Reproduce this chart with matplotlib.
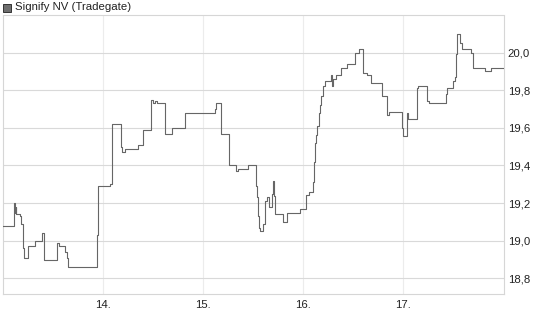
import matplotlib
matplotlib.use("Agg")
import matplotlib.pyplot as plt
from matplotlib.patches import Rectangle

plt.rcParams['font.family'] = ['Liberation Sans', 'DejaVu Sans']

title = "Signify NV (Tradegate)"
x_ticks = [14, 15, 16, 17]
x_tick_labels = ["14.", "15.", "16.", "17."]
y_ticks = [18.8, 19.0, 19.2, 19.4, 19.6, 19.8, 20.0]
y_tick_labels = ["18,8", "19,0", "19,2", "19,4", "19,6", "19,8", "20,0"]

# time in fractional days, price (step series)
times = [13.000, 13.105, 13.115, 13.125, 13.13, 13.17, 13.18, 13.195, 13.21, 13.245,
         13.32, 13.385, 13.405, 13.543, 13.56, 13.615, 13.635, 13.645, 13.943, 13.95,
         14.07, 14.093, 14.177, 14.19, 14.215, 14.35, 14.40, 14.477, 14.50, 14.52,
         14.54, 14.62, 14.685, 14.815, 15.113, 15.13, 15.18, 15.26, 15.325, 15.35,
         15.45, 15.525, 15.54, 15.55, 15.56, 15.57, 15.60, 15.615, 15.64, 15.655,
         15.685, 15.695, 15.705, 15.72, 15.80, 15.835, 15.97, 16.025, 16.055, 16.095,
         16.105, 16.12, 16.13, 16.14, 16.155, 16.17, 16.18, 16.195, 16.215, 16.28,
         16.287, 16.30, 16.33, 16.38, 16.44, 16.517, 16.553, 16.597, 16.637, 16.677,
         16.785, 16.835, 16.853, 16.985, 16.995, 17.037, 17.05, 17.137, 17.15, 17.237,
         17.26, 17.427, 17.44, 17.50, 17.52, 17.53, 17.54, 17.565, 17.59, 17.675,
         17.70, 17.82, 17.875, 18.00]
prices = [19.08, 19.20, 19.15, 19.18, 19.14, 19.13, 19.09, 18.96, 18.91, 18.97,
          19.00, 19.04, 18.90, 18.99, 18.97, 18.94, 18.91, 18.86, 19.03, 19.29,
          19.30, 19.62, 19.50, 19.47, 19.485, 19.51, 19.59, 19.75, 19.73, 19.745,
          19.73, 19.567, 19.60, 19.68, 19.70, 19.73, 19.567, 19.40, 19.37, 19.38,
          19.40, 19.29, 19.23, 19.13, 19.07, 19.05, 19.09, 19.21, 19.23, 19.18,
          19.25, 19.32, 19.24, 19.14, 19.10, 19.15, 19.17, 19.245, 19.26, 19.31,
          19.42, 19.52, 19.56, 19.61, 19.68, 19.72, 19.77, 19.82, 19.85, 19.88,
          19.82, 19.86, 19.88, 19.92, 19.94, 20.00, 20.02, 19.89, 19.88, 19.84,
          19.77, 19.67, 19.685, 19.60, 19.556, 19.68, 19.645, 19.81, 19.82, 19.74,
          19.73, 19.78, 19.81, 19.85, 19.87, 19.995, 20.10, 20.05, 20.02, 20.00,
          19.92, 19.90, 19.92, 19.92]

W, H = 545, 327
fig = plt.figure(figsize=(W / 100, H / 100), dpi=100)
ax = fig.add_axes([3 / W, (H - 294) / H, (503.5 - 3) / W, (294 - 15.5) / H])

ax.plot(times, prices, drawstyle='steps-post', color='#666666', lw=0.8, zorder=3)

ax.set_xlim(13.0, 18.0)
ax.set_ylim(18.717, 20.197)

ax.set_xticks(x_ticks)
ax.set_xticklabels(x_tick_labels)
ax.set_yticks(y_ticks)
ax.set_yticklabels(y_tick_labels)
ax.yaxis.tick_right()
ax.tick_params(axis='both', length=0, labelsize=8.2, colors='#222222')
ax.tick_params(axis='x', pad=4)
ax.tick_params(axis='y', pad=3)

ax.grid(axis='y', color='#d9d9d9', lw=0.8, zorder=0)
ax.grid(axis='x', color='#ececec', lw=0.8, zorder=0)
for s in ax.spines.values():
    s.set_color('#d6d6d6')
    s.set_linewidth(0.8)

# legend marker and title
fig.patches.append(Rectangle((3 / W, (H - 12) / H), 8 / W, 8 / H,
                             transform=fig.transFigure, facecolor='#6e6e6e',
                             edgecolor='#333333', lw=0.7))
fig.text(15 / W, (H - 7.5) / H, title, fontsize=8.2, color='#222222',
         ha='left', va='center')

fig.savefig("out.png", dpi=100)
